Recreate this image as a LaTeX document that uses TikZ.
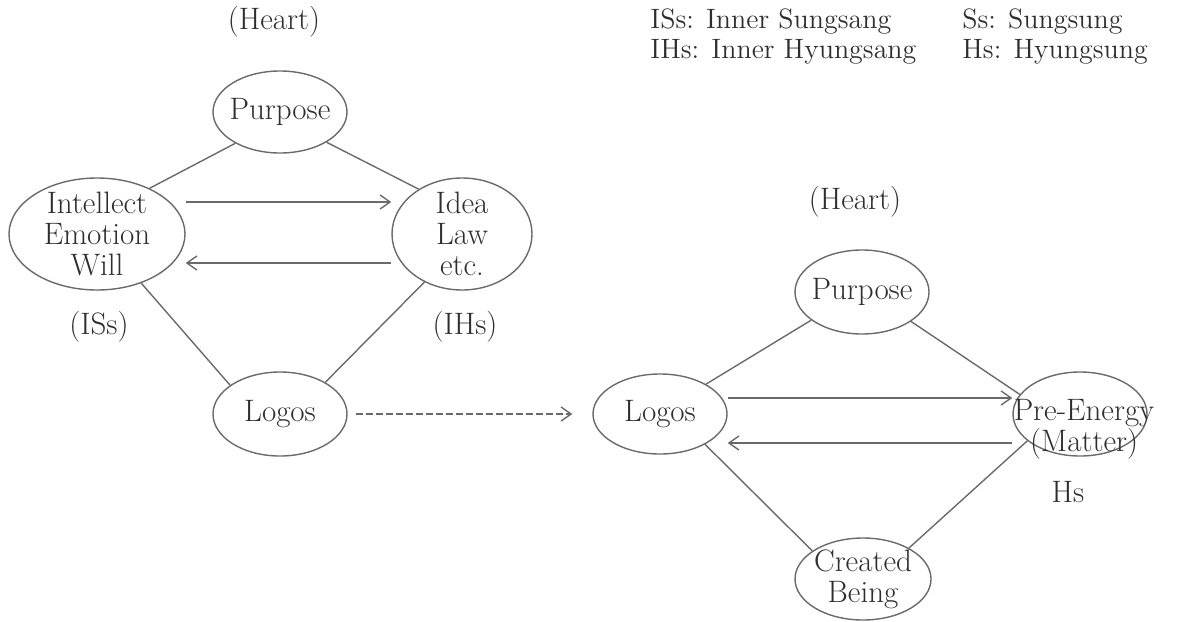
\documentclass[tikz,border=0pt]{standalone}
\usepackage{fontspec}
\usetikzlibrary{shapes.geometric, arrows.meta}

\definecolor{linegray}{HTML}{6A6A6A}
\definecolor{inkgray}{HTML}{2E2E2E}

\begin{document}
\begin{tikzpicture}[x = .5pt, y = -.5pt,
    txt/.style = {text = inkgray, align = center, inner sep = 0pt,
        font = \fontsize{15.5}{15.5}\selectfont\addfontfeature{LetterSpace = 5, FakeStretch = 0.9, FakeBold = 0.4}},
    legend/.style = {txt, align = left, font = \fontsize{14}{15}\selectfont\addfontfeature{LetterSpace = 0, FakeStretch = 0.92}},
    ell/.style = {ellipse, draw = linegray, line width = .7pt, txt, inner sep = -3pt},
    link/.style = {draw = linegray, line width = .7pt},
    flow/.style = {link, -{Straight Barb[length = 5pt, width = 7pt]}}]

    \useasboundingbox (0, 0) rectangle (1181, 621);

    % legend
    \node [legend, anchor = north west] (legendA) at (650, 8) {ISs: Inner Sungsang\\IHs: Inner Hyungsang};
    \node [legend, anchor = north west] (legendB) at (962, 8) {Ss: Sungsung\\Hs: Hyungsung};

    % inner side
    \node [txt] (heartL) at (274, 22) {(Heart)};
    \node [ell, minimum width = 67pt, minimum height = 41pt] (purposeL) at (280, 112) {Purpose};
    \node [ell, minimum width = 88pt, minimum height = 56pt] (intellect) at (97, 234) {Intellect\\Emotion\\Will};
    \node [ell, minimum width = 70pt, minimum height = 56pt] (idea) at (462, 234) {Idea\\Law\\etc.};
    \node [ell, minimum width = 67pt, minimum height = 42pt] (logosL) at (280, 414) {Logos};
    \node [txt] (iss) at (99, 327) {(ISs)};
    \node [txt] (ihs) at (465, 327) {(IHs)};

    \draw [link] (purposeL.215) -- (intellect.41);
    \draw [link] (purposeL.327) -- (idea.134);
    \draw [link] (intellect.312) -- (logosL.150);
    \draw [link] (idea.232) -- (logosL.35);
    \draw [flow] ([yshift = 16pt] intellect.east) -- ([yshift = 16pt] idea.west);
    \draw [flow] ([yshift = -14.5pt] idea.west) -- ([yshift = -14.5pt] intellect.east);

    % outer side
    \node [txt] (heartR) at (855, 202) {(Heart)};
    \node [ell, minimum width = 67pt, minimum height = 42pt] (purposeR) at (862, 292) {Purpose};
    \node [ell, minimum width = 67pt, minimum height = 40pt] (logosR) at (660, 414) {Logos};
    \node [ell, minimum width = 67pt, minimum height = 42pt] (pre) at (1080, 414) {};
    \node [txt] (preText) at (1084, 429) {Pre-Energy\\(Matter)};
    \node [ell, minimum width = 68pt, minimum height = 41pt] (created) at (863, 579) {Created\\Being};
    \node [txt] (hs) at (1068, 492) {Hs};

    \draw [link] (purposeR.209) -- (logosR.33);
    \draw [link] (purposeR.329) -- (pre.162);
    \draw [link] (logosR.326) -- (created.151);
    \draw [link] (created.34) -- (pre.207);
    \draw [flow] ([yshift = 8pt] logosR.east) -- ([yshift = 8pt] pre.west);
    \draw [flow] ([yshift = -14.5pt] pre.west) -- ([yshift = -14.5pt] logosR.east);

    \draw [flow, dashed, dash pattern = on 3.5pt off 1.5pt, shorten <= 4pt, shorten >= 10pt] (logosL.east) -- (logosR.west);
\end{tikzpicture}
\end{document}
